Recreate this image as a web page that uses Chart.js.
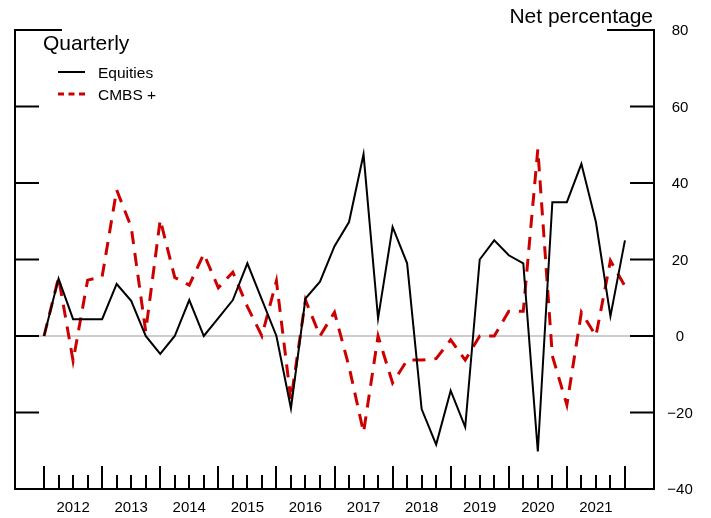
<!DOCTYPE html>
<html><head><meta charset="utf-8">
<script src="https://cdn.jsdelivr.net/npm/chart.js@4/dist/chart.umd.min.js"></script>
<style>html,body{margin:0;padding:0;background:#fff}#wrap{width:711px;height:518px}</style>
</head><body><div id="wrap"><canvas id="c" width="711" height="518"></canvas></div>
<script>
const quarters = [
  '2012Q1','2012Q2','2012Q3','2012Q4','2013Q1','2013Q2','2013Q3','2013Q4',
  '2014Q1','2014Q2','2014Q3','2014Q4','2015Q1','2015Q2','2015Q3','2015Q4',
  '2016Q1','2016Q2','2016Q3','2016Q4','2017Q1','2017Q2','2017Q3','2017Q4',
  '2018Q1','2018Q2','2018Q3','2018Q4','2019Q1','2019Q2','2019Q3','2019Q4',
  '2020Q1','2020Q2','2020Q3','2020Q4','2021Q1','2021Q2','2021Q3','2021Q4',
  '2022Q1'
];
const equities = [0, 15, 4.4, 4.4, 4.4, 13.6, 9.2, 0, -4.7, 0, 9.4, 0, 4.7, 9.4, 19.0, 9.5,
  0, -18.9, 9.8, 14.2, 23.5, 29.8, 47.5, 4.6, 28.5, 19.0, -19.1, -28.4, -14.3, -23.8, 20.0, 25.0,
  21.1, 19.0, -30.2, 35.0, 35.0, 45.0, 29.8, 5.2, 25.0];
const cmbs = [0, 15.3, -6.5, 14.6, 15.5, 38.2, 28.5, 1.2, 30.4, 15.3, 13.3, 21.5, 12.6, 16.7, 7.7, 0,
  14.4, -16.7, 9.4, 0, 6.2, -8, -25.2, 0, -12.3, -6.3, -6.3, -5.9, -1.0, -6.3, 0, 0,
  6.5, 6.5, 48.8, -5.2, -18.0, 6.2, 0, 19.7, 13.0];
const yearLabels = ['2012','2013','2014','2015','2016','2017','2018','2019','2020','2021'];
const yTicks = [-40, -20, 0, 20, 40, 60, 80];
const seriesNames = ['Equities', 'CMBS +'];
const titleText = 'Net percentage';
const subtitleText = 'Quarterly';

const FONT = '"Liberation Sans", Arial, Helvetica, sans-serif';
const toPoints = arr => arr.map((v, i) => ({x: i, y: v}));

const decor = {
  id: 'decor',
  beforeDatasetsDraw(chart) {
    const {ctx, chartArea: a, scales: {y}} = chart;
    ctx.save();
    ctx.strokeStyle = '#bdbdbd';
    ctx.lineWidth = 1.5;
    ctx.beginPath();
    const y0 = y.getPixelForValue(0);
    ctx.moveTo(a.left, y0); ctx.lineTo(a.right, y0);
    ctx.stroke();
    ctx.restore();
  },
  afterDatasetsDraw(chart) {
    const {ctx, chartArea: a, scales: {x, y}} = chart;
    ctx.save();
    ctx.strokeStyle = '#000';
    ctx.lineWidth = 2;
    ctx.lineCap = 'butt';
    ctx.beginPath();
    ctx.moveTo(a.left, a.top); ctx.lineTo(a.left, a.bottom + 1);
    ctx.moveTo(a.right, a.top - 1); ctx.lineTo(a.right, a.bottom + 1);
    ctx.moveTo(a.left - 1, a.bottom); ctx.lineTo(a.right + 1, a.bottom);
    ctx.stroke();
    // y ticks (inward) both sides
    ctx.beginPath();
    yTicks.forEach(v => {
      const py = y.getPixelForValue(v);
      const len = (v === 80) ? 47 : 24;
      ctx.moveTo(a.left - 1, py); ctx.lineTo(a.left + len, py);
      ctx.moveTo(a.right - len, py); ctx.lineTo(a.right + 1, py);
    });
    ctx.stroke();
    // x ticks (inward)
    ctx.beginPath();
    quarters.forEach((q, i) => {
      const px = Math.round(x.getPixelForValue(i));
      const len = (i % 4 === 0) ? 23 : 14;
      ctx.moveTo(px, a.bottom); ctx.lineTo(px, a.bottom - len);
    });
    ctx.stroke();
    // right y labels
    ctx.fillStyle = '#000';
    ctx.font = '15px ' + FONT;
    ctx.textAlign = 'center';
    ctx.textBaseline = 'middle';
    yTicks.forEach(v => {
      const label = v < 0 ? '\u2212' + Math.abs(v) : String(v);
      ctx.fillText(label, a.right + 26, y.getPixelForValue(v) + 1);
    });
    // year labels
    ctx.textBaseline = 'alphabetic';
    yearLabels.forEach((lab, k) => {
      ctx.fillText(lab, x.getPixelForValue(4 * k + 2), 512);
    });
    // title
    ctx.font = '21px ' + FONT;
    ctx.textAlign = 'right';
    ctx.fillText(titleText, a.right - 1, 23);
    ctx.textAlign = 'left';
    ctx.fillText(subtitleText, 43, 50);
    // legend
    const ds = chart.data.datasets;
    const legY = [72, 94];
    ds.forEach((d, i) => {
      ctx.beginPath();
      ctx.strokeStyle = d.borderColor;
      ctx.lineWidth = d.borderWidth;
      ctx.setLineDash(i === 1 ? [6, 4.5] : []);
      ctx.moveTo(58, legY[i]); ctx.lineTo(85, legY[i]);
      ctx.stroke();
      ctx.setLineDash([]);
      ctx.fillStyle = '#000';
      ctx.font = '15.5px ' + FONT;
      ctx.textBaseline = 'alphabetic';
      ctx.fillText(d.label, 98, legY[i] + 6);
    });
    ctx.restore();
  }
};

new Chart(document.getElementById('c'), {
  type: 'line',
  data: {
    datasets: [
      {label: seriesNames[0], data: toPoints(equities), borderColor: '#000000', borderWidth: 2,
       pointRadius: 0, tension: 0, fill: false},
      {label: seriesNames[1], data: toPoints(cmbs), borderColor: '#cc0000', borderWidth: 3,
       borderDash: [13, 9], pointRadius: 0, tension: 0, fill: false}
    ]
  },
  options: {
    responsive: false,
    animation: false,
    devicePixelRatio: 1,
    layout: {padding: {left: 15, right: 57, top: 30, bottom: 29}},
    plugins: {legend: {display: false}, tooltip: {enabled: false}},
    scales: {
      x: {type: 'linear', min: -2, max: 42, display: false},
      y: {type: 'linear', min: -40, max: 80, display: false}
    }
  },
  plugins: [decor]
});
</script>
</body></html>
